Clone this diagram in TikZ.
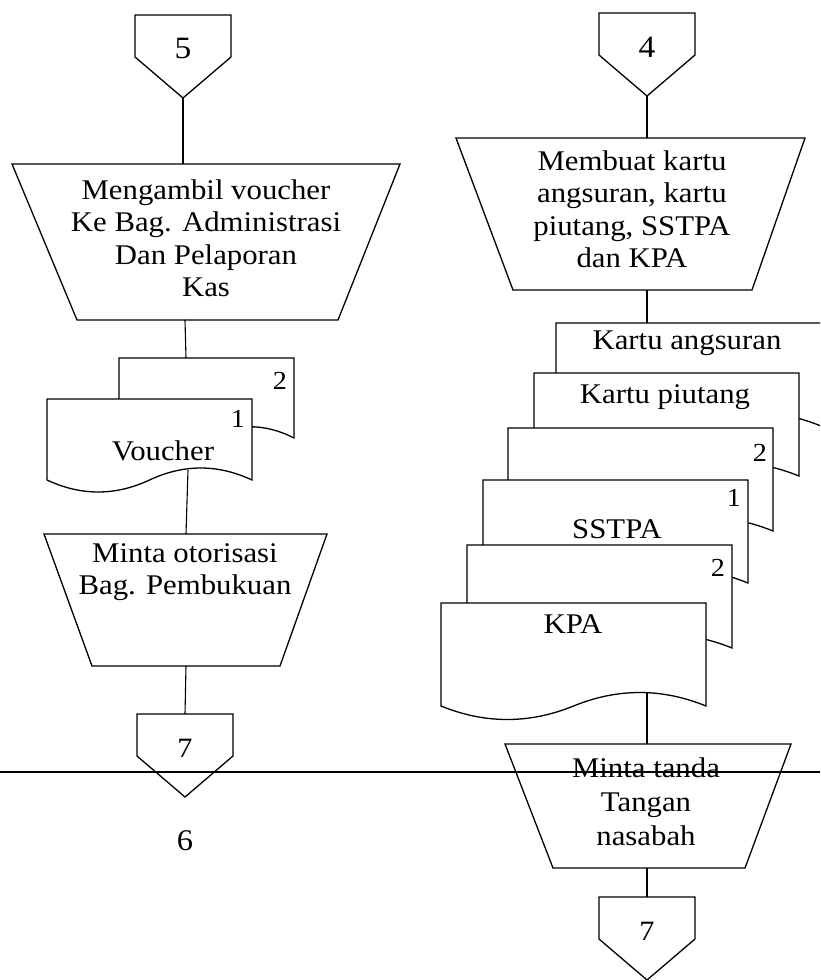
\documentclass[tikz,border=0pt]{standalone}
\usepackage{fontspec}
\setmainfont{Liberation Serif}[FakeStretch=1.08]

% document symbol: left x, top y, width, height, wave depth
\newcommand\docsheet[5]{%
  \path[sym] (#1,#2) -- ({#1+#3},#2) -- ({#1+#3},{#2+#4})
    .. controls ({#1+#3-#3/6},{#2+#4-#5}) and ({#1+#3/2+#3/6},{#2+#4-#5}) .. ({#1+#3/2},{#2+#4})
    .. controls ({#1+#3/2-#3/6},{#2+#4+#5}) and ({#1+#3/6},{#2+#4+#5}) .. (#1,{#2+#4}) -- cycle;}

% off-page connector: name, centre x, top y, label, label size
\newcommand\offpage[5]{%
  \path[sym] ({#2-48},#3) -- ({#2+48},#3) -- ({#2+48},{#3+42}) -- (#2,{#3+83})
    -- ({#2-48},{#3+42}) -- cycle;
  \node[inner sep=0pt, font=\fontsize{#5}{#5}\selectfont] (#1) at (#2,{#3+34}) {#4};
  \coordinate (#1-in) at (#2,#3);
  \coordinate (#1-out) at (#2,{#3+83});}

% manual operation: top y, top left x, top right x, bottom y, bottom left x, bottom right x
\newcommand\manualop[6]{%
  \path[sym] (#2,#1) -- (#3,#1) -- (#6,#4) -- (#5,#4) -- cycle;}

\begin{document}
\begin{tikzpicture}[x=1pt, y=-1pt, line join=miter,
  sym/.style={draw=black, fill=white, line width=1.3pt},
  flow/.style={draw=black, line width=1.1pt},
  lbl/.style={inner sep=0pt, align=center, font=\fontsize{28.5}{32.5}\selectfont},
  lbl3/.style={inner sep=0pt, align=center, font=\fontsize{28.5}{34}\selectfont},
  num/.style={inner sep=0pt, font=\fontsize{26}{26}\selectfont}]
\useasboundingbox (0,0) rectangle (820,980);
\clip (0,0) rectangle (820,980);
\fill[white] (0,0) rectangle (820,980);

% ---------- left column ----------
\offpage{c5}{183}{15}{5}{31}

\manualop{164}{12}{400}{320}{77}{338}
\node[lbl] (opA) at (206,238) {Mengambil voucher\\Ke Bag. Administrasi\\Dan Pelaporan\\Kas};
\coordinate (opA-in) at (183,164);
\coordinate (opA-out) at (185,320);

\docsheet{119}{358}{175}{80}{15}
\node[num] (vch2) at (280,381) {2};
\coordinate (vch-in) at (186,358);
\docsheet{47}{399}{205}{81}{16}
\node[num] (vch1) at (238,419) {1};
\node[lbl] (vch) at (163,451) {Voucher};
\coordinate (vch-out) at (188,470);

\manualop{534}{44}{327}{666}{92}{280}
\node[lbl] (opB) at (185,572) {Minta otorisasi\\Bag. Pembukuan};
\coordinate (opB-in) at (186,534);
\coordinate (opB-out) at (186,666);

\offpage{c7a}{185}{714}{7}{28}

\node[inner sep=0pt, font=\fontsize{30}{30}\selectfont] (six) at (185,841) {6};

% ---------- right column ----------
\offpage{c4}{647}{13}{4}{31}

\manualop{138}{456}{805}{290}{513}{752}
\node[lbl] (opC) at (632,209) {Membuat kartu\\angsuran, kartu\\piutang, SSTPA\\dan KPA};
\coordinate (opC-in) at (647,138);
\coordinate (opC-out) at (647,290);

\docsheet{556}{323}{265}{103}{18}
\node[lbl] (ka) at (687,343) {Kartu angsuran};
\coordinate (ka-in) at (647,323);
\docsheet{534}{373}{265}{103}{18}
\node[lbl] (kp) at (665,397) {Kartu piutang};
\docsheet{508}{428}{265}{103}{18}
\node[num] (ss2) at (760,453) {2};
\docsheet{483}{480}{265}{103}{18}
\node[num] (ss1) at (734,498) {1};
\node[lbl] (ss) at (617,529) {SSTPA};
\docsheet{467}{545}{265}{103}{18}
\node[num] (kpa2) at (718,568) {2};
\docsheet{441}{603}{265}{103}{18}
\node[lbl] (kpa) at (573,624) {KPA};
\coordinate (kpa-out) at (647,692);

\manualop{744}{505}{791}{868}{553}{745}
\node[lbl3] (opD) at (646,802) {Minta tanda\\Tangan\\nasabah};
\coordinate (opD-in) at (647,744);
\coordinate (opD-out) at (647,868);

\offpage{c7b}{647}{897}{7}{28}

% ---------- flow lines ----------
\draw[flow] (c5-out) -- (opA-in);
\draw[flow] (opA-out) -- (vch-in);
\draw[flow] (vch-out) -- (opB-in);
\draw[flow] (opB-out) -- (c7a-in);
\draw[flow] (c4-out) -- (opC-in);
\draw[flow] (opC-out) -- (ka-in);
\draw[flow] (kpa-out) -- (opD-in);
\draw[flow] (opD-out) -- (c7b-in);

% page divider
\coordinate (divL) at (0,772);
\coordinate (divR) at (820,772);
\draw[line width=2pt] (divL) -- (divR);
\end{tikzpicture}
\end{document}
